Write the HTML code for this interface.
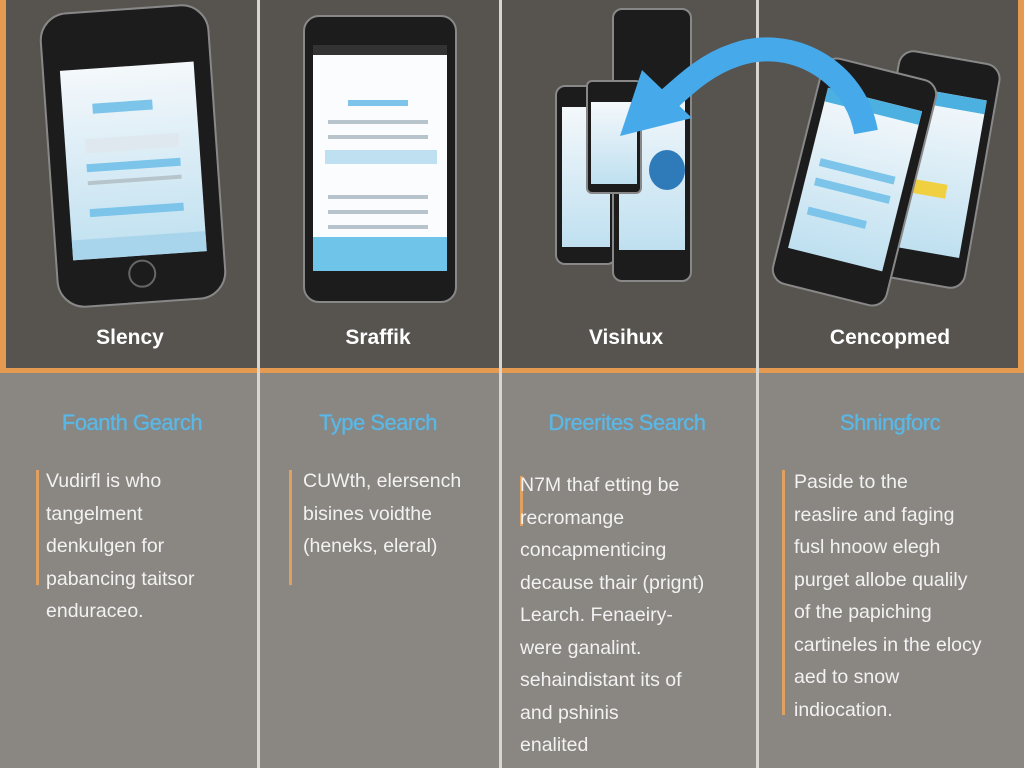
<!DOCTYPE html>
<html><head><style>
body{margin:0;width:1024px;height:768px;overflow:hidden;background:#8a8682;font-family:"Liberation Sans",sans-serif;position:relative}
.top{position:absolute;left:0;top:0;width:1024px;height:372px;background:#57534f;}
.ob{position:absolute;background:#e59a52}
.div{position:absolute;width:3px;background:#d8d5d0}
.t{position:absolute;color:#fff;font-weight:bold;font-size:21px;text-align:center;width:200px}
.h{position:absolute;color:#5ab8e6;font-size:22px;text-align:center;width:240px;letter-spacing:-0.5px;text-shadow:0 0 1px #5ab8e6}
.b{position:absolute;color:#f2f2f2;font-size:19.5px;line-height:32.5px;white-space:pre}
.bar{position:absolute;width:3px;background:#e0a060}
.ph{position:absolute;background:#1c1c1c;border-radius:18px;border:2px solid #888}
.sc{position:absolute;background:linear-gradient(#f4f8fb,#bfe0f0);overflow:hidden}
.ln{position:absolute;height:4px;background:#b8c4cc}
.bl{position:absolute;height:10px;background:#7cc4ea}
</style></head><body>
<div class="top"></div>
<div class="ob" style="left:0;top:0;width:6px;height:372px"></div>
<div class="ob" style="left:0;top:368px;width:1024px;height:5px"></div>
<div class="ob" style="left:1018px;top:0;width:6px;height:372px"></div>
<div class="div" style="left:257px;top:0;height:768px"></div>
<div class="div" style="left:499px;top:0;height:768px"></div>
<div class="div" style="left:756px;top:0;height:768px"></div>

<!-- phone 1 -->
<div class="ph" style="left:48px;top:8px;width:166px;height:292px;transform:rotate(-4deg);border-radius:28px">
 <div class="sc" style="left:16px;top:56px;width:134px;height:190px">
  <div class="bl" style="left:30px;top:35px;width:60px"></div>
  <div class="ln" style="left:20px;top:70px;width:94px;height:14px;background:#dfe8ee"></div>
  <div class="bl" style="left:20px;top:95px;width:94px;height:8px"></div>
  <div class="ln" style="left:20px;top:112px;width:94px"></div>
  <div class="bl" style="left:20px;top:140px;width:94px;height:8px"></div>
  <div class="bl" style="left:0;top:170px;width:134px;height:20px;background:#a8d4ec"></div>
 </div>
 <div style="position:absolute;left:70px;top:250px;width:24px;height:24px;border-radius:50%;border:2px solid #666"></div>
</div>
<!-- phone 2 -->
<div class="ph" style="left:303px;top:15px;width:150px;height:284px;border-radius:16px">
 <div class="sc" style="left:8px;top:28px;width:134px;height:226px;background:linear-gradient(#fafcfd 85%,#6fc4ea 85%)">
  <div class="ln" style="left:0;top:0;width:134px;height:10px;background:#333"></div>
  <div class="bl" style="left:35px;top:55px;width:60px;height:6px"></div>
  <div class="ln" style="left:15px;top:75px;width:100px"></div>
  <div class="ln" style="left:15px;top:90px;width:100px"></div>
  <div class="bl" style="left:12px;top:105px;width:112px;height:14px;background:#bfe0f0"></div>
  <div class="ln" style="left:15px;top:150px;width:100px"></div>
  <div class="ln" style="left:15px;top:165px;width:100px"></div>
  <div class="ln" style="left:15px;top:180px;width:100px"></div>
 </div>
</div>
<!-- phone 3 group -->
<div class="ph" style="left:555px;top:85px;width:58px;height:176px;border-radius:10px"><div class="sc" style="left:5px;top:20px;width:48px;height:140px"></div></div>
<div class="ph" style="left:612px;top:8px;width:76px;height:270px;border-radius:10px"><div class="sc" style="left:5px;top:80px;width:66px;height:160px"><div style="position:absolute;left:30px;top:60px;width:36px;height:40px;border-radius:50%;background:#2f7ab8"></div></div></div>
<div class="ph" style="left:586px;top:80px;width:52px;height:110px;border-radius:6px"><div class="sc" style="left:3px;top:20px;width:46px;height:82px"></div></div>
<!-- phone 4 group -->
<div class="ph" style="left:880px;top:55px;width:100px;height:225px;transform:rotate(10deg);border-radius:16px"><div class="sc" style="left:8px;top:35px;width:84px;height:160px"><div class="bl" style="left:0;top:0;width:84px;height:14px;background:#4cb0e0"></div><div class="bl" style="left:20px;top:90px;width:40px;height:14px;background:#f0d040"></div></div></div>
<div class="ph" style="left:795px;top:65px;width:115px;height:230px;transform:rotate(14deg);border-radius:16px"><div class="sc" style="left:9px;top:30px;width:97px;height:165px"><div class="bl" style="left:0;top:0;width:97px;height:14px;background:#4cb0e0"></div><div class="bl" style="left:10px;top:70px;width:77px;height:8px"></div><div class="bl" style="left:10px;top:90px;width:77px;height:8px"></div><div class="bl" style="left:10px;top:120px;width:60px;height:8px"></div></div></div>
<svg style="position:absolute;left:0;top:0" width="1024" height="372">
<path d="M866 132 C855 70 790 35 735 55 C705 65 685 85 668 100" fill="none" stroke="#45a9ea" stroke-width="24"/>
<polygon points="620,136 642,70 692,118" fill="#45a9ea"/>
</svg>

<div class="t" style="left:30px;top:326px">Slency</div>
<div class="t" style="left:278px;top:326px">Sraffik</div>
<div class="t" style="left:526px;top:326px">Visihux</div>
<div class="t" style="left:790px;top:326px">Cencopmed</div>

<div class="h" style="left:12px;top:410px">Foanth Gearch</div>
<div class="h" style="left:258px;top:410px">Type Search</div>
<div class="h" style="left:507px;top:410px">Dreerites Search</div>
<div class="h" style="left:770px;top:410px">Shningforc</div>

<div class="bar" style="left:36px;top:470px;height:115px"></div>
<div class="b" style="left:46px;top:465px">Vudirfl is who
tangelment
denkulgen for
pabancing taitsor
enduraceo.</div>
<div class="bar" style="left:289px;top:470px;height:115px"></div>
<div class="b" style="left:303px;top:465px">CUWth, elersench
bisines voidthe
(heneks, eleral)</div>
<div class="bar" style="left:520px;top:476px;height:50px"></div>
<div class="b" style="left:520px;top:469px">N7M thaf etting be
recromange
concapmenticing
decause thair (prignt)
Learch. Fenaeiry-
were ganalint.
sehaindistant its of
and pshinis
enalited</div>
<div class="bar" style="left:782px;top:470px;height:245px"></div>
<div class="b" style="left:794px;top:466px">Paside to the
reaslire and faging
fusl hnoow elegh
purget allobe qualily
of the papiching
cartineles in the elocy
aed to snow
indiocation.</div>
</body></html>
